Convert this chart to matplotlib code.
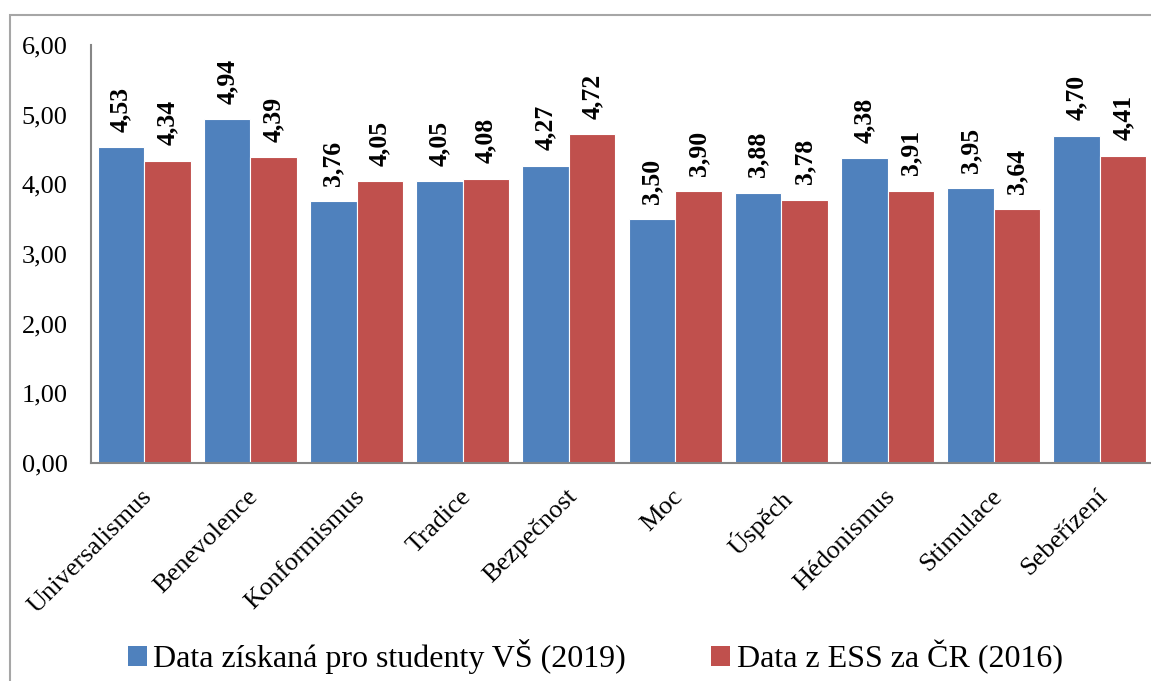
import matplotlib.pyplot as plt
from matplotlib.patches import Rectangle, Patch
from matplotlib.ticker import FuncFormatter
import numpy as np

categories = ['Universalismus', 'Benevolence', 'Konformismus', 'Tradice', 'Bezpečnost',
              'Moc', 'Úspěch', 'Hédonismus', 'Stimulace', 'Sebeřízení']
students_2019 = [4.53, 4.94, 3.76, 4.05, 4.27, 3.50, 3.88, 4.38, 3.95, 4.70]
ess_2016 = [4.34, 4.39, 4.05, 4.08, 4.72, 3.90, 3.78, 3.91, 3.64, 4.41]
series_names = ['Data získaná pro studenty VŠ (2019)', 'Data z ESS za ČR (2016)']
colors = ['#4F81BD', '#C0504D']

plt.rcParams['font.family'] = ['Liberation Serif', 'DejaVu Serif']

fig = plt.figure(figsize=(11.51, 6.81), dpi=100)
W, H = 1151, 681

# outer chart frame (cropped on right and bottom)
fig.patches.append(Rectangle((10 / W, -0.1), 1.2, 1 - 15 / H + 0.1, transform=fig.transFigure,
                             fill=False, edgecolor='#A6A6A6', linewidth=1.5))

ax = fig.add_axes([91 / W, 1 - 463 / H, 1062 / W, (463 - 45) / H])
x = np.arange(len(categories))
bw = 0.4375
bars1 = ax.bar(x - bw / 2, students_2019, bw, color=colors[0], edgecolor='white', linewidth=0.8)
bars2 = ax.bar(x + bw / 2, ess_2016, bw, color=colors[1], edgecolor='white', linewidth=0.8)

for bars, vals in ((bars1, students_2019), (bars2, ess_2016)):
    for b, v in zip(bars, vals):
        ax.annotate(f'{v:.2f}'.replace('.', ','), (b.get_x() + b.get_width() / 2, v),
                    xytext=(0, 11), textcoords='offset points', rotation=90,
                    ha='center', va='bottom', fontsize=18.5, fontweight='bold')

ax.set_xlim(-0.5, len(categories) - 0.5)
ax.set_ylim(0, 6)
ax.set_yticks(np.arange(0, 7, 1))
ax.yaxis.set_major_formatter(FuncFormatter(lambda v, p: f'{v:.2f}'.replace('.', ',')))
ax.tick_params(axis='y', length=0, pad=17, labelsize=19)
ax.tick_params(axis='x', length=0, pad=16, labelsize=19)
ax.set_xticks(x - 0.03)
ax.set_xticklabels(categories, rotation=45, ha='right', va='top', rotation_mode='anchor')
for s in ('top', 'right'):
    ax.spines[s].set_visible(False)
for s in ('left', 'bottom'):
    ax.spines[s].set_color('#868686')
    ax.spines[s].set_linewidth(1.5)

handles = [Patch(facecolor=c) for c in colors]
fig.legend(handles, series_names, loc='center left', bbox_to_anchor=(99 / W, 1 - 657 / H),
           ncol=2, frameon=False, fontsize=23, handlelength=0.6, handleheight=0.6,
           handletextpad=0.2, columnspacing=2.66)

fig.savefig('out.png', dpi=100)
